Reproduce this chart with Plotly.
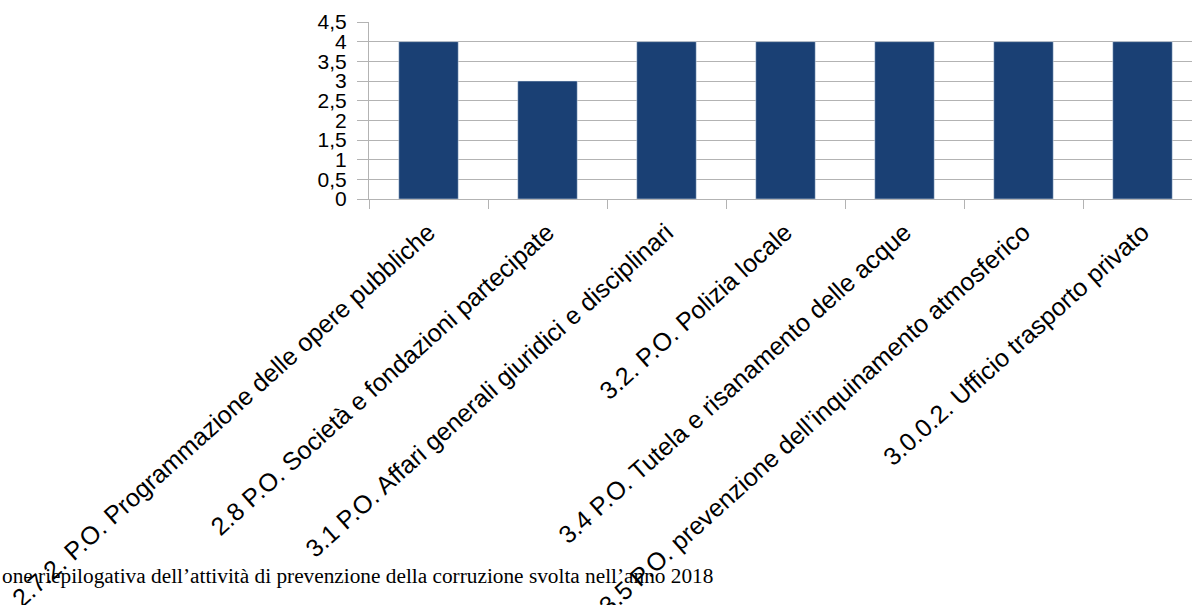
import plotly.graph_objects as go

categories = [
    "2.7.2. P.O. Programmazione delle opere pubbliche",
    "2.8 P.O. Società e fondazioni partecipate",
    "3.1 P.O. Affari generali giuridici e disciplinari",
    "3.2. P.O. Polizia locale",
    "3.4 P.O. Tutela e risanamento delle acque",
    "3.5 P.O. prevenzione dell’inquinamento atmosferico",
    "3.0.0.2. Ufficio trasporto privato",
]
values = [4, 3, 4, 4, 4, 4, 4]
y_ticks = [0, 0.5, 1, 1.5, 2, 2.5, 3, 3.5, 4, 4.5]
y_tick_labels = ["0", "0,5", "1", "1,5", "2", "2,5", "3", "3,5", "4", "4,5"]
caption = "one riepilogativa dell’attività di prevenzione della corruzione svolta nell’anno 2018"

fig = go.Figure(go.Bar(x=categories, y=values, marker_color="#1a4074", width=0.5))

fig.update_layout(
    width=1192, height=605,
    margin=dict(l=369, r=0, t=22, b=406, autoexpand=False),
    paper_bgcolor="white", plot_bgcolor="white",
    showlegend=False,
    font=dict(family="Liberation Sans", color="black"),
)
fig.update_xaxes(
    type="category", range=[-0.5, 6.416], tickangle=-42,
    tickfont=dict(size=25, family="Liberation Sans", color="black"),
    ticks="outside", ticklen=9, tickcolor="#b3b3b3", tickson="boundaries",
    showgrid=False, showline=True, linecolor="#b3b3b3", zeroline=False,
    ticklabelstandoff=8,
)
fig.update_yaxes(
    range=[0, 4.5], tickvals=y_ticks, ticktext=y_tick_labels,
    tickfont=dict(size=21, family="Liberation Sans", color="black"),
    ticks="outside", ticklen=11, tickcolor="#b3b3b3",
    showgrid=True, gridcolor="#b3b3b3", showline=True, linecolor="#b3b3b3",
    zeroline=False, ticklabelstandoff=6,
)
fig.add_annotation(
    text=caption, xref="paper", yref="paper", x=-369/823, y=-(576-199)/177,
    xanchor="left", yanchor="middle", showarrow=False,
    font=dict(family="Liberation Serif", size=21.3, color="black"),
)
fig.write_html("out.html")
